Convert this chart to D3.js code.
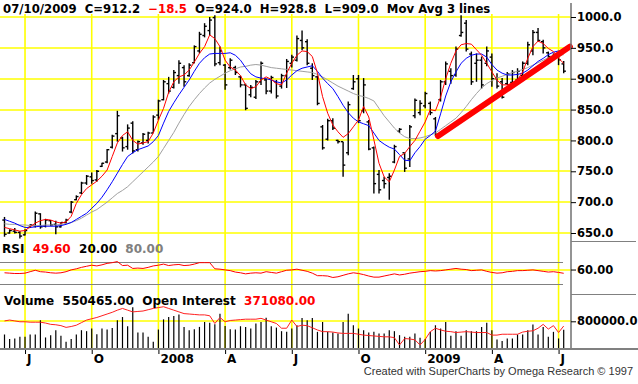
<!DOCTYPE html>
<html>
<head>
<meta charset="utf-8">
<script src="https://cdn.jsdelivr.net/npm/d3@7"></script>
<style>
  html, body { margin: 0; padding: 0; background: #fff; }
  svg { display: block; }
  text { font-family: "DejaVu Sans", sans-serif; font-weight: bold; font-size: 12px; white-space: pre; }
  .footer { font-family: "Liberation Sans", Arial, sans-serif; font-weight: normal; font-size: 11px; }
</style>
</head>
<body>
<div id="chart"></div>
<script>
// weekly bars, 2007-06-08 .. 2009-07-10
const opens = [671,650,653,651,647,659,662,681,661,670,664,660,667,684,704,715,731,741,736,758,
  765,789,811,804,790,828,785,796,800,812,841,866,892,886,905,918,905,926,945,970,
  978,999,926,922,918,918,903,890,874,870,895,898,880,895,888,905,925,930,962,960,
  917,903,822,802,832,800,798,780,884,900,848,830,788,745,735,740,765,815,780,770,
  840,845,856,860,835,866,895,912,906,970,990,940,925,930,925,935,900,895,892,894,
  898,905,925,945,975,960,942,935,936,924.0];
const highs = [676,656,658,653,656,664,685,682,673,671,670,668,673,702,711,733,744,748,752,764,
  786,809,848,806,826,831,800,812,814,841,866,898,903,914,930,922,925,954,976,990,
  1000,1003,952,924,933,921,905,892,890,898,928,900,905,898,908,932,939,970,978,964,
  925,905,825,835,836,801,798,863,906,906,901,833,790,752,741,747,793,820,780,825,
  868,865,879,863,838,898,928,917,952,1003,995,944,941,936,952,941,909,901,911,914,
  917,928,960,979,982,963,944,941,936,928.8];
const lows = [644,649,649,641,646,658,659,657,659,661,648,659,665,682,703,713,728,730,733,757,
  763,787,798,782,785,779,782,793,795,812,833,865,876,884,892,887,903,925,941,967,
  971,920,922,882,915,906,886,849,870,867,890,875,876,868,884,885,918,928,946,922,
  898,857,785,800,817,795,741,776,882,828,844,784,714,714,722,704,763,812,749,757,
  836,841,852,841,807,863,890,892,903,968,944,890,895,884,920,887,884,868,890,890,
  895,901,922,938,960,941,930,929,922,909.0];
const closes = [648,654,651,645,654,663,682,660,671,663,660,667,671,700,709,731,742,735,750,763,
  785,807,840,788,820,783,798,810,812,838,864,895,880,910,925,895,922,952,972,985,
  995,924,945,890,930,910,890,852,886,895,925,880,902,872,905,928,935,965,950,925,
  905,860,788,832,820,798,760,858,895,832,890,786,730,720,730,742,790,818,755,822,
  865,860,876,845,810,895,924,905,948,975,948,895,930,890,945,900,888,870,908,910,
  912,925,955,975,962,950,936,938,930.7,912.2];

// the three moving averages as drawn
const maFast = [659,657,655,653,654,660,666,670,672,671,668,666,668,677,698,712,722,728,734,742,
  752,774,796,808,814,800,794,796,798,812,833,852,878,895,903,906,914,927,941,952,
  971,965,952,930,919,914,905,890,884,887,898,903,899,892,890,909,925,938,945,944,
  936,909,871,844,825,814,805,811,822,833,855,838,801,763,741,733,752,774,779,790,
  800,815,830,850,848,870,900,925,945,955,957,956,947,938,925,911,898,890,890,893,
  898,911,933,952,961,957,949,944,933,925];
const maMid = [672,669,666,662,659,659,660,661,661,661,661,662,664,667,672,677,682,690,698,708,
  720,733,747,761,774,780,785,788,791,798,808,828,847,861,874,886,898,912,925,934,
  940,941,941,941,942,938,930,918,908,903,901,900,898,895,893,898,906,913,917,919,
  921,912,901,892,884,871,857,845,836,830,827,824,812,800,794,789,786,777,768,767,
  780,790,802,808,815,843,872,895,911,925,933,938,940,940,935,923,914,909,906,906,
  907,909,914,921,928,933,939,943,945,946];
const maSlow = [665,664,664,663,663,662,662,662,663,663,663,664,665,667,670,674,679,684,688,694,
  700,707,714,719,725,733,741,749,757,765,774,787,800,813,828,842,855,866,876,885,
  893,899,904,909,913,916,919,920,922,923,922,920,918,917,916,915,914,913,912,911,
  910,907,903,898,893,888,884,880,876,873,871,868,864,852,840,830,820,812,806,803,
  803,804,806,809,812,818,824,830,836,845,855,866,876,885,892,897,901,904,907,910,
  912,915,918,922,926,930,934,936,938,939];

const rsi = [51,50,49,49,50,54,58,54,53,51,50,51,54,59,62,66,69,72,70,73,
  77,79,82,71,72,63,64,63,66,70,72,75,71,73,74,71,72,75,79,79,
  79,62,61,59,57,53,51,48,50,51,50,54,52,50,54,58,59,61,58,55,
  50,43,43,42,38,40,44,48,51,49,46,42,39,39,42,45,48,45,47,50,
  52,54,55,57,56,57,59,61,63,61,60,57,58,59,55,52,50,51,54,55,
  57,57,58,59,57,55,53,54,52,49.6];

const volume = [405000,267000,286000,336000,336000,405000,405000,830000,316000,385000,
  533000,365000,188000,267000,405000,533000,504000,583000,415000,583000,
  553000,602000,830000,928000,652000,1224000,464000,464000,336000,188000,
  553000,859000,928000,958000,1007000,632000,533000,563000,632000,780000,
  760000,711000,1027000,662000,563000,553000,652000,632000,583000,731000,
  780000,909000,652000,612000,504000,484000,583000,681000,899000,830000,
  899000,484000,780000,484000,464000,435000,780000,1027000,681000,583000,
  533000,464000,484000,435000,435000,533000,504000,385000,336000,336000,
  435000,306000,267000,484000,681000,583000,780000,365000,504000,365000,
  533000,504000,504000,632000,760000,533000,257000,208000,286000,286000,
  405000,405000,533000,701000,405000,632000,336000,484000,286000,550465];
const openInterest = [383000,385000,383000,381000,381000,380000,380000,380000,378000,375000,
  374000,372000,368000,370000,373000,379000,385000,388000,391000,395000,
  399000,403000,408000,412000,408000,404000,405000,406000,409000,412000,
  414000,416000,412000,408000,404000,400000,399000,398000,397000,397000,
  395000,377000,391000,381000,384000,385000,386000,387000,387000,387000,
  389000,385000,381000,377000,366000,366000,385000,370000,373000,372000,
  367000,362000,358000,358000,357000,355000,354000,354000,354000,352000,
  350000,349000,348000,347000,346000,346000,344000,327000,342000,341000,
  339000,327000,340000,358000,366000,362000,359000,358000,356000,357000,
  358000,357000,356000,356000,356000,350000,350000,352000,352000,352000,
  352000,357000,359000,360000,366000,375000,364000,372000,356000,371080];

const priceTicks = [650, 700, 750, 800, 850, 900, 950, 1000];
const rsiBands = [20, 80];
const rsiTicks = [60];
const volumeTicks = [800000];
const quarterTicks = ["J", "O", "2008", "A", "J", "O", "2009", "A", "J"];
// hand-drawn trend line: [week index, price]
const trendLine = [[84.5, 807], [110.2, 952]];

const width = 638, height = 384;
const plotRight = 571;

const dates = d3.utcFriday.range(new Date(Date.UTC(2007, 5, 8)), new Date(Date.UTC(2009, 6, 11)));
const quarterIdx = d3.range(1, dates.length).filter(i =>
  dates[i].getUTCMonth() % 3 === 0 && dates[i].getUTCMonth() !== dates[i - 1].getUTCMonth());

const x = d3.scaleLinear().domain([0, closes.length - 1]).range([4.5, 563.7]);
const yPrice = d3.scaleLinear().domain([650, 1000]).range([233, 17]);
const yRsi = d3.scaleLinear().domain([20, 80]).range([284, 262.3]);
const yVol = d3.scaleLinear().domain([0, 800000]).range([348, 321.3]);
const yOi = d3.scaleLinear().domain([320000, 420000]).range([348, 305]);
const crisp = v => Math.floor(v) + 0.5;

const svg = d3.select("#chart").append("svg")
  .attr("width", width)
  .attr("height", height)
  .attr("viewBox", [0, 0, width, height]);

svg.append("rect").attr("width", width).attr("height", height).attr("fill", "#fff");

// yellow grid
const grid = svg.append("g").attr("stroke", "#ffff00").attr("stroke-width", 1.6);
quarterIdx.forEach(i => grid.append("line")
  .attr("x1", x(i)).attr("x2", x(i)).attr("y1", 14).attr("y2", 348));
const hGrid = (y, x2) => grid.append("line")
  .attr("x1", 0).attr("x2", x2).attr("y1", Math.round(y)).attr("y2", Math.round(y));
priceTicks.forEach(v => hGrid(yPrice(v), plotRight));
rsiTicks.forEach(v => hGrid(yRsi(v), plotRight));
volumeTicks.forEach(v => hGrid(yVol(v), plotRight));

// rsi 20 / 80 bands
rsiBands.forEach(v => svg.append("line")
  .attr("x1", 0).attr("x2", 563).attr("y1", crisp(yRsi(v))).attr("y2", crisp(yRsi(v)))
  .attr("stroke", "#808080"));

// price bars
const bars = svg.append("g").attr("stroke", "#000").attr("stroke-width", 1.4);
closes.forEach((c, i) => {
  const bx = x(i);
  bars.append("line").attr("x1", bx).attr("x2", bx).attr("y1", yPrice(highs[i])).attr("y2", yPrice(lows[i]));
  bars.append("line").attr("x1", bx - 2.2).attr("x2", bx).attr("y1", yPrice(opens[i])).attr("y2", yPrice(opens[i]));
  bars.append("line").attr("x1", bx).attr("x2", bx + 2.2).attr("y1", yPrice(c)).attr("y2", yPrice(c));
});

// moving averages
const maLine = d3.line().x((d, i) => x(i)).y(d => yPrice(d));
[[maSlow, "#a0a0a0"], [maMid, "#0000ff"], [maFast, "#ff0000"]].forEach(([s, col]) =>
  svg.append("path").attr("d", maLine(s)).attr("fill", "none").attr("stroke", col).attr("stroke-width", 1));

// trend line
svg.append("path")
  .attr("d", d3.line().x(d => x(d[0])).y(d => yPrice(d[1]))(trendLine))
  .attr("stroke", "#ff0000").attr("stroke-width", 6).attr("stroke-linecap", "round");

// rsi
svg.append("path")
  .attr("d", d3.line().x((d, i) => x(i)).y(d => yRsi(d))(rsi))
  .attr("fill", "none").attr("stroke", "#ff0000").attr("stroke-width", 1);

// volume + open interest
const vol = svg.append("g").attr("stroke", "#000").attr("stroke-width", 1.2);
volume.forEach((v, i) => vol.append("line")
  .attr("x1", x(i)).attr("x2", x(i)).attr("y1", yVol(0)).attr("y2", yVol(v)));
svg.append("path")
  .attr("d", d3.line().x((d, i) => x(i)).y(d => yOi(d))(openInterest))
  .attr("fill", "none").attr("stroke", "#ff2020").attr("stroke-width", 1);

// right axis
svg.append("line").attr("x1", plotRight).attr("x2", plotRight).attr("y1", 3).attr("y2", 349)
  .attr("stroke", "#707070").attr("stroke-width", 1.5);
[241.5, 294.5].forEach(y => svg.append("line")
  .attr("x1", plotRight).attr("x2", 636).attr("y1", y).attr("y2", y).attr("stroke", "#808080"));

const rightAxis = (scale, ticks, fmt) => g => g
  .attr("transform", `translate(${plotRight},0)`)
  .call(d3.axisRight(scale).tickValues(ticks).tickSize(5).tickPadding(1).tickFormat(fmt))
  .call(g => g.select(".domain").remove())
  .call(g => g.selectAll("text").attr("font-size", null).attr("font-family", null).style("font-size", "11.5px"));
svg.append("g").call(rightAxis(yPrice, priceTicks, d3.format(".1f")));
svg.append("g").call(rightAxis(yRsi, rsiTicks, d3.format(".2f")));
svg.append("g").call(rightAxis(yVol, volumeTicks, d3.format(".1f")));

// bottom axis
svg.append("g")
  .attr("transform", "translate(0,348)")
  .call(d3.axisBottom(x).tickValues(quarterIdx).tickSize(6).tickPadding(0).tickFormat((d, k) => quarterTicks[k]))
  .call(g => g.select(".domain").remove())
  .call(g => g.selectAll("text").attr("font-size", null).attr("font-family", null)
    .attr("text-anchor", "start").attr("x", 1.5));
svg.append("line").attr("x1", 0).attr("x2", width).attr("y1", 349).attr("y2", 349)
  .attr("stroke", "#808080").attr("stroke-width", 2);

// headers
const last = closes.length - 1;
const f1 = d3.format(".1f"), f2 = d3.format(".2f");
const head = svg.append("text").attr("x", 3).attr("y", 13).style("font-size", "11.7px");
head.append("tspan").text(`${d3.utcFormat("%m/%d/%Y")(dates[last])}  C=${f1(closes[last])}  `);
head.append("tspan").attr("fill", "#ff0000").text(f1(closes[last] - closes[last - 1]));
head.append("tspan").text(`  O=${f1(opens[last])}  H=${f1(highs[last])}  L=${f1(lows[last])}  Mov Avg 3 lines`);

const rsiHead = svg.append("text").attr("x", 2).attr("y", 252.5);
rsiHead.append("tspan").text("RSI  ");
rsiHead.append("tspan").attr("fill", "#ff0000").text(f2(rsi[last]));
rsiHead.append("tspan").text(`  ${f2(rsiBands[0])}  `);
rsiHead.append("tspan").attr("fill", "#808080").text(f2(rsiBands[1]));

const volHead = svg.append("text").attr("x", 4).attr("y", 305);
volHead.append("tspan").text(`Volume  ${f2(volume[last])}  Open Interest  `);
volHead.append("tspan").attr("fill", "#ff0000").text(f2(openInterest[last]));

svg.append("text").attr("class", "footer")
  .attr("x", 633).attr("y", 375).attr("text-anchor", "end").attr("fill", "#333")
  .text("Created with SuperCharts by Omega Research \u00a9 1997");
</script>
</body>
</html>
